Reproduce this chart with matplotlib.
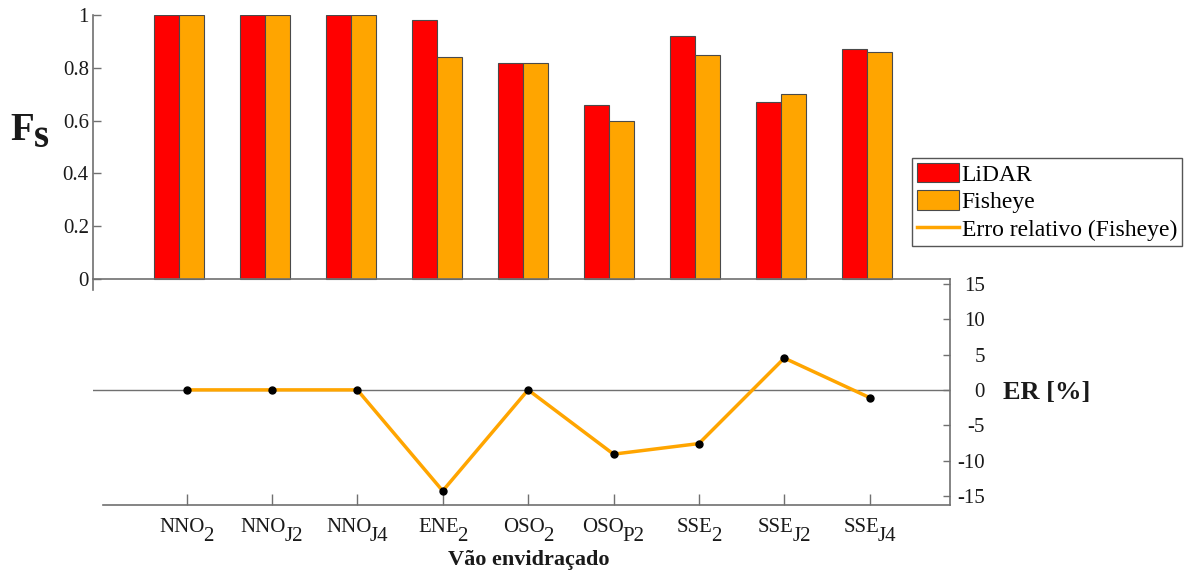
import matplotlib
matplotlib.use('Agg')
import matplotlib.pyplot as plt
from matplotlib.lines import Line2D
from matplotlib.offsetbox import TextArea, HPacker, VPacker, DrawingArea, AnnotationBbox
import numpy as np

plt.rcParams['font.family'] = ['Liberation Serif', 'DejaVu Serif']
plt.rcParams['axes.unicode_minus'] = False

# glazing openings (name + subscript)
names = ['NNO', 'NNO', 'NNO', 'ENE', 'OSO', 'OSO', 'SSE', 'SSE', 'SSE']
subs = ['2', 'J2', 'J4', '2', '2', 'P2', '2', 'J2', 'J4']

# shading factor Fs
lidar = [1.0, 1.0, 1.0, 0.98, 0.82, 0.66, 0.92, 0.67, 0.87]
fisheye = [1.0, 1.0, 1.0, 0.84, 0.82, 0.60, 0.85, 0.70, 0.86]

# relative error of fisheye vs LiDAR [%]
erro = [0.0, 0.0, 0.0, -14.3, 0.0, -9.1, -7.6, 4.5, -1.1]

RED = '#ff0000'
ORANGE = '#ffa500'
GREY = '#707070'
INK = '#1a1a1a'
W, H = 1194, 575


def sub_label(main, sub, size, drop, weight='normal', sep=-1):
    # text with a full-size, lowered subscript
    props = dict(fontsize=size, fontweight=weight, color=INK)
    low = VPacker(children=[DrawingArea(0, drop), TextArea(sub, textprops=props)],
                  align='left', pad=0, sep=0)
    return HPacker(children=[TextArea(main, textprops=props), low],
                   align='top', pad=0, sep=sep)


fig = plt.figure(figsize=(W / 100, H / 100), dpi=100)

# --- top: bars ---
ax1 = fig.add_axes([93 / W, 1 - 290 / H, 860 / W, 275 / H])
ax1.patch.set_alpha(0)
x = np.arange(1, len(names) + 1)
w = 0.29
b1 = ax1.bar(x - w / 2, lidar, w, color=RED, edgecolor='#4a4a4a', linewidth=0.8, label='LiDAR')
b2 = ax1.bar(x + w / 2, fisheye, w, color=ORANGE, edgecolor='#4a4a4a', linewidth=0.8, label='Fisheye')
ax1.set_xlim(0, 10)
ax1.set_ylim(-0.042, 1)
ax1.set_xticks([])
ax1.set_yticks([0, 0.2, 0.4, 0.6, 0.8, 1])
ax1.set_yticklabels(['0', '0.2', '0.4', '0.6', '0.8', '1'])
for s in ['top', 'right', 'bottom']:
    ax1.spines[s].set_visible(False)
ax1.spines['left'].set_color(GREY)
ax1.spines['left'].set_linewidth(1.2)
ax1.tick_params(axis='y', direction='in', length=6, width=1, color=GREY,
                labelsize=15, labelcolor=INK, pad=3)

# --- bottom: relative error ---
ax2 = fig.add_axes([93 / W, 1 - 505 / H, 857 / W, 226 / H])
ax2.patch.set_alpha(0)
ax2.axhline(0, color=GREY, lw=1, zorder=0)
ax2.plot(x, erro, color=ORANGE, lw=2.5, marker='o', ms=5, mfc='black', mec='black')
ax2.set_xlim(-0.095, 9.94)
ax2.set_ylim(-16.3, 15.7)
ax2.yaxis.tick_right()
ax2.set_yticks(np.arange(-15, 16, 5))
for lab in ax2.get_yticklabels():
    lab.set_ha('right')
ax2.set_xticks(x)
ax2.spines['left'].set_visible(False)
ax2.spines['bottom'].set_bounds(0.02, 9.94)
for s in ['top', 'right', 'bottom']:
    ax2.spines[s].set_color(GREY)
    ax2.spines[s].set_linewidth(1.2)
ax2.tick_params(axis='y', direction='in', length=5, width=1, color=GREY,
                labelsize=15, labelcolor=INK, pad=25)
ax2.tick_params(axis='x', direction='in', length=8, width=1, color=GREY,
                labelbottom=False)

for xi, name, s in zip(x, names, subs):
    ab = AnnotationBbox(sub_label(name, s, 15, 7), (xi, 0),
                        xycoords=ax2.get_xaxis_transform(),
                        xybox=(0, -9), boxcoords='offset points',
                        box_alignment=(0.5, 1), frameon=False, pad=0,
                        annotation_clip=False)
    ax2.add_artist(ab)

ax2.set_xlabel('Vão envidraçado', fontsize=16, fontweight='bold', color=INK)
ax2.xaxis.set_label_coords(0.508, -0.2)

# axis titles
fs = AnnotationBbox(sub_label('F', 's', 28, 5, weight='bold', sep=0),
                    (10 / W, 1 - 112 / H),
                    xycoords='figure fraction', box_alignment=(0, 1),
                    frameon=False, pad=0)
fig.add_artist(fs)
fig.text(1003 / W, 1 - 392 / H, 'ER [%]', fontsize=19, fontweight='bold',
         color=INK, ha='left', va='center')

err_handle = Line2D([], [], color=ORANGE, lw=2.5)
leg = fig.legend([b1, b2, err_handle], ['LiDAR', 'Fisheye', 'Erro relativo (Fisheye)'],
                 loc='upper left', bbox_to_anchor=(912 / W, 1 - 158 / H),
                 fontsize=17, frameon=True, fancybox=False, edgecolor='#555555',
                 borderpad=0.2, labelspacing=0.2, handlelength=1.8,
                 handleheight=0.9, handletextpad=0.1, borderaxespad=0)
leg.get_frame().set_linewidth(1)
leg.get_frame().set_alpha(1)

fig.savefig('out.png', dpi=100)
